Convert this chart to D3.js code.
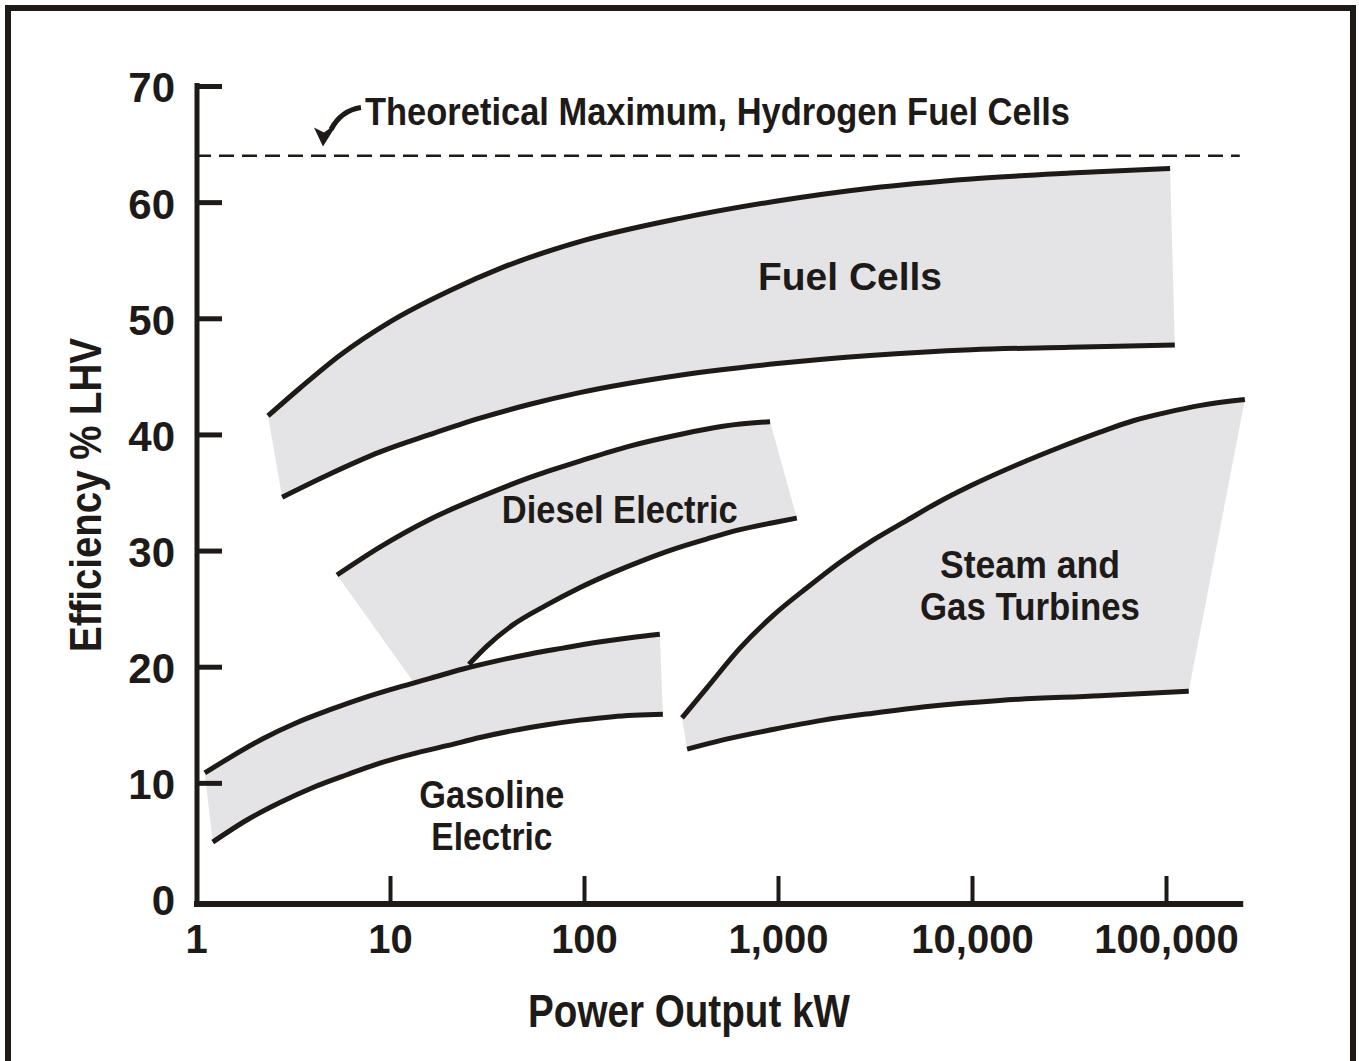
<!DOCTYPE html>
<html>
<head>
<meta charset="utf-8">
<script src="https://cdn.jsdelivr.net/npm/d3@7"></script>
<style>
  body { margin: 0; background: #fff; }
  svg { display: block; }
</style>
</head>
<body>
<div id="chart"></div>
<script>
// --------------------------------------------------------------------------------------
// data: x = power output kW (log), y = efficiency % LHV
// --------------------------------------------------------------------------------------
var x_ticks = [1, 10, 100, 1000, 10000, 100000];
var x_tick_labels = ["1", "10", "100", "1,000", "10,000", "100,000"];
var y_ticks = [0, 10, 20, 30, 40, 50, 60, 70];
var theoretical_max = 64;

var fuel_upper = [[2.35, 41.6], [3.44, 44.0], [5.5, 46.8], [10, 49.7], [20.4, 52.4], [37, 54.3], [100, 56.7],
                  [312, 58.6], [990, 60.1], [2980, 61.2], [9900, 62.0], [32000, 62.5], [105000, 62.9]];
var fuel_lower = [[2.78, 34.6], [4.9, 36.6], [8.9, 38.5], [16.1, 40.0], [29.1, 41.4], [52.7, 42.6], [95, 43.6],
                  [312, 45.1], [990, 46.1], [2980, 46.8], [9900, 47.3], [32000, 47.5], [111000, 47.7]];

var diesel_upper = [[5.33, 27.9], [8.87, 30.3], [16.1, 32.7], [29.1, 34.6], [52.7, 36.3], [95.2, 37.7],
                    [172, 39.0], [312, 40.0], [520, 40.7], [910, 41.1]];
var diesel_lower = [[25.5, 20.2], [31.7, 21.8], [43, 23.6], [64, 25.3], [95, 26.8], [141, 28.1], [205, 29.2],
                    [288, 30.1], [431, 31.0], [637, 31.8], [942, 32.4], [1250, 32.8]];
var diesel_corner = [14.4, 17.8];   // hidden corner of the diesel fill, inside the gasoline band

var gas_upper = [[1.11, 10.85], [1.5, 12.2], [2.21, 13.8], [3.32, 15.2], [4.91, 16.3], [7.26, 17.3], [10.9, 18.2],
                 [16.1, 19.0], [23.8, 19.8], [35.6, 20.5], [52.7, 21.1], [77.9, 21.6], [117, 22.1], [173, 22.5], [246, 22.8]];
var gas_lower = [[1.22, 4.9], [1.83, 6.8], [2.71, 8.3], [4.01, 9.6], [6.0, 10.7], [8.87, 11.7], [13.1, 12.5],
                 [19.7, 13.2], [29.1, 13.9], [43, 14.5], [64.4, 15.0], [95.3, 15.4], [141, 15.7], [255, 15.9]];

var steam_upper = [[320, 15.6], [431, 18.2], [637, 21.6], [942, 24.4], [1410, 26.8], [2090, 29.0], [3090, 30.9],
                   [4620, 32.6], [6600, 34.1], [9890, 35.6], [17700, 37.5], [28400, 38.9], [45700, 40.2],
                   [68400, 41.2], [101000, 41.9], [151000, 42.5], [255000, 43.0]];
var steam_lower = [[340, 12.9], [521, 13.7], [942, 14.6], [1710, 15.4], [3090, 16.0], [6080, 16.6],
                   [13900, 17.1], [45700, 17.5], [131000, 17.9]];

var band_labels = [
  { lines: ["Fuel Cells"], x: 2350, y: 52.4, len: [184] },
  { lines: ["Diesel Electric"], x: 153, y: 32.4, len: [236] },
  { lines: ["Steam and", "Gas Turbines"], x: 19900, y: 27.6, len: [180, 220] },
  { lines: ["Gasoline", "Electric"], x: 33.5, y: 7.8, len: [145, 121] }
];
var max_label = { text: "Theoretical Maximum, Hydrogen Fuel Cells", x: 7.43, y: 66.6 };

// --------------------------------------------------------------------------------------
// draw
// --------------------------------------------------------------------------------------
var ink = "#1e1a18";
var fill = "#e4e4e6";
var font = "'Liberation Sans', Arial, Helvetica, sans-serif";

var svg = d3.select("#chart").append("svg")
    .attr("width", 1359)
    .attr("height", 1061);

// outer frame (bottom edge runs off the picture)
svg.append("rect")
    .attr("x", 8).attr("y", 8)
    .attr("width", 1345).attr("height", 1100)
    .attr("fill", "none")
    .attr("stroke", ink)
    .attr("stroke-width", 6);

var x = d3.scaleLog().domain([1, 250000]).range([196, 196 + 194 * Math.log10(250000)]);
var y = d3.scaleLinear().domain([0, 70]).range([899, 86]);

var line = d3.line()
    .x(function(d) { return x(d[0]); })
    .y(function(d) { return y(d[1]); })
    .curve(d3.curveMonotoneX);

var bands = [
  { upper: fuel_upper, lower: fuel_lower },
  { upper: gas_upper, lower: gas_lower },
  { upper: diesel_upper, lower: diesel_lower, extra: diesel_corner },
  { upper: steam_upper, lower: steam_lower }
];

var g_fill = svg.append("g");
var g_edge = svg.append("g");

// sample a drawn path into points, so the fill follows the same curve
function sample(node)
{
  var len = node.getTotalLength(), pts = [];
  for(var s = 0; s <= len; s += 3) {
    var p = node.getPointAtLength(s);
    pts.push([p.x, p.y]);
  }
  var e = node.getPointAtLength(len);
  pts.push([e.x, e.y]);
  return pts;
}

bands.forEach(function(b) {
  var up = g_edge.append("path").attr("d", line(b.upper));
  var lo = g_edge.append("path").attr("d", line(b.lower));

  var pts = sample(up.node()).concat(sample(lo.node()).reverse());
  if(b.extra) pts.push([x(b.extra[0]), y(b.extra[1])]);

  g_fill.append("path")
      .attr("d", "M" + pts.join("L") + "Z")
      .attr("fill", fill)
      .attr("stroke", "none");
});

g_edge.selectAll("path")
    .attr("fill", "none")
    .attr("stroke", ink)
    .attr("stroke-width", 5);

// theoretical maximum dashed line
svg.append("path")
    .attr("d", d3.line().x(function(d) { return x(d[0]); }).y(function(d) { return y(d[1]); })
        ([[1, theoretical_max], [240000, theoretical_max]]))
    .attr("stroke", ink)
    .attr("stroke-width", 2.5)
    .attr("stroke-dasharray", "15,8")
    .attr("fill", "none");

// ==========================================================
// axes

var gx = svg.append("g")
    .attr("transform", "translate(0,904)")
    .call(d3.axisBottom(x)
      .tickValues(x_ticks)
      .tickFormat(function(d, i) { return x_tick_labels[i]; })
      .tickSizeInner(-28)
      .tickSizeOuter(0)
      .tickPadding(21));

gx.select(".domain").attr("stroke", ink).attr("stroke-width", 6)
    .attr("d", "M" + (x(1) - 2) + ",0H" + x.range()[1]);
gx.selectAll(".tick line").attr("stroke", ink).attr("stroke-width", 4);
gx.selectAll(".tick text")
    .attr("fill", ink)
    .attr("font-family", font)
    .attr("font-weight", "bold")
    .attr("font-size", 40)
    .attr("dy", "0.71em");

var gy = svg.append("g")
    .attr("transform", "translate(197,0)")
    .call(d3.axisLeft(y)
      .tickValues(y_ticks)
      .tickSizeInner(-25)
      .tickSizeOuter(0)
      .tickPadding(22));

gy.select(".domain").attr("stroke", ink).attr("stroke-width", 5)
    .attr("d", "M0," + (y(70) - 3) + "V907");
gy.selectAll(".tick line").attr("stroke", ink).attr("stroke-width", 5);
gy.selectAll(".tick text")
    .attr("fill", ink)
    .attr("font-family", font)
    .attr("font-weight", "bold")
    .attr("font-size", 42)
    .attr("dy", "0.38em");

// the ticks at 0 and 1 sit on the axis lines
gy.selectAll(".tick line").filter(function(d) { return d === 0; }).remove();
gx.selectAll(".tick line").filter(function(d) { return d === 1; }).remove();

// axis titles
svg.append("text")
    .attr("x", 689).attr("y", 1027)
    .attr("text-anchor", "middle")
    .attr("font-family", font)
    .attr("font-weight", "bold")
    .attr("font-size", 46)
    .attr("textLength", 322)
    .attr("lengthAdjust", "spacingAndGlyphs")
    .attr("fill", ink)
    .text("Power Output kW");

svg.append("text")
    .attr("transform", "translate(101,495) rotate(-90)")
    .attr("text-anchor", "middle")
    .attr("font-family", font)
    .attr("font-weight", "bold")
    .attr("font-size", 44)
    .attr("textLength", 314)
    .attr("lengthAdjust", "spacingAndGlyphs")
    .attr("fill", ink)
    .text("Efficiency % LHV");

// ==========================================================
// labels

band_labels.forEach(function(l) {
  l.lines.forEach(function(t, i) {
    svg.append("text")
      .attr("x", x(l.x))
      .attr("y", y(l.y) + i * 42)
      .attr("text-anchor", "middle")
      .attr("font-family", font)
      .attr("font-weight", "bold")
      .attr("font-size", 39)
      .attr("textLength", l.len[i])
      .attr("lengthAdjust", "spacingAndGlyphs")
      .attr("fill", ink)
      .text(t);
  });
});

var ax = x(max_label.x), ay = y(max_label.y);

svg.append("text")
    .attr("x", ax).attr("y", ay)
    .attr("font-family", font)
    .attr("font-weight", "bold")
    .attr("font-size", 39)
    .attr("textLength", 705)
    .attr("lengthAdjust", "spacingAndGlyphs")
    .attr("fill", ink)
    .text(max_label.text);

// little hooked arrow pointing at the dashed line
svg.append("path")
    .attr("transform", "translate(" + ax + "," + ay + ")")
    .attr("d", "M-4,-18Q-24,-15-34,4")
    .attr("fill", "none")
    .attr("stroke", ink)
    .attr("stroke-width", 5);

svg.append("path")
    .attr("transform", "translate(" + ax + "," + ay + ")")
    .attr("d", "M-42,21L-51,2L-41,7L-27,-3Z")
    .attr("fill", ink);
</script>
</body>
</html>
